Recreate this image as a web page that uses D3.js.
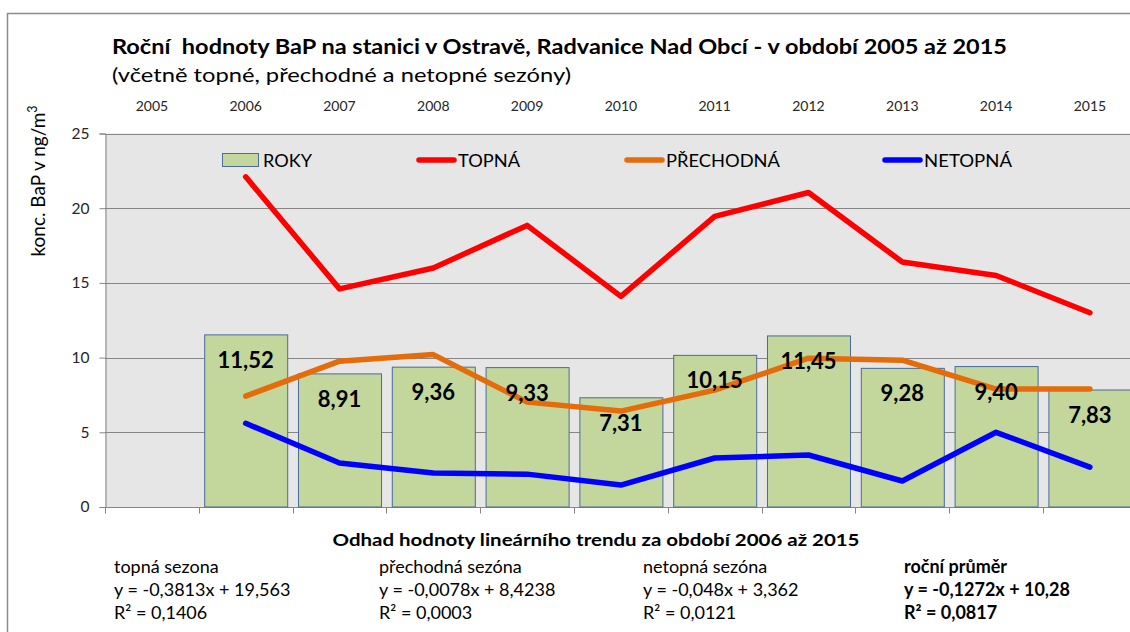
<!DOCTYPE html>
<html><head><meta charset="utf-8">
<script src="https://cdn.jsdelivr.net/npm/d3@7"></script>
<style>
html,body{margin:0;padding:0;background:#fff;}
svg{display:block;font-family:Lato, "Open Sans", sans-serif;}
</style></head>
<body>
<svg id="c" width="1130" height="632"></svg>
<script>
const years = ["2005","2006","2007","2008","2009","2010","2011","2012","2013","2014","2015"];
const roky = [null, 11.52, 8.91, 9.36, 9.33, 7.31, 10.15, 11.45, 9.28, 9.40, 7.83];
const topna = [null, 22.1, 14.6, 16.0, 18.85, 14.1, 19.45, 21.05, 16.4, 15.5, 13.0];
const prechodna = [null, 7.42, 9.76, 10.2, 7.02, 6.42, 7.82, 9.96, 9.83, 7.89, 7.89];
const netopna = [null, 5.6, 2.94, 2.27, 2.2, 1.47, 3.28, 3.48, 1.74, 5.0, 2.67];
const yTicks = [0, 5, 10, 15, 20, 25];
const legendNames = ["ROKY", "TOPNÁ", "PŘECHODNÁ", "NETOPNÁ"];
const titleText = "Roční  hodnoty BaP na stanici v Ostravě, Radvanice Nad Obcí - v období 2005 až 2015";
const subtitleText = "(včetně topné, přechodné a netopné sezóny)";
const trendTitle = "Odhad hodnoty lineárního trendu za období 2006 až 2015";
const trendNames = ["topná sezona", "přechodná sezóna", "netopná sezóna", "roční průměr"];
const trendEq = ["y = -0,3813x + 19,563", "y = -0,0078x + 8,4238", "y = -0,048x + 3,362", "y = -0,1272x + 10,28"];
const trendR2 = ["R² = 0,1406", "R² = 0,0003", "R² = 0,0121", "R² = 0,0817"];

const svg = d3.select("#c");
const fmt = v => v.toFixed(2).replace(".", ",");

// outer frame
svg.append("line").attr("x1",7).attr("x2",1130).attr("y1",13.5).attr("y2",13.5).attr("stroke","#8c8c8c").attr("stroke-width",1.5);
svg.append("line").attr("x1",7.5).attr("x2",7.5).attr("y1",13).attr("y2",632).attr("stroke","#8c8c8c").attr("stroke-width",1.5);

const pLeft = 105, pStep = 93.8, pTop = 133.5, pBottom = 507;
const x = d3.scaleBand().domain(years).range([pLeft, pLeft + pStep*years.length]).padding(0);
const y = d3.scaleLinear().domain([0,25]).range([pBottom, pTop]);
const bw = x.bandwidth()*0.885;
const cx = d => x(d) + x.bandwidth()/2;

// plot area
svg.append("rect").attr("x",pLeft).attr("y",pTop).attr("width",x.range()[1]-pLeft).attr("height",pBottom-pTop).attr("fill","#e6e6e6");

// gridlines
svg.append("g").selectAll("line").data(yTicks).join("line")
  .attr("x1",pLeft).attr("x2",x.range()[1]).attr("y1",d=>Math.round(y(d))+0.5).attr("y2",d=>Math.round(y(d))+0.5)
  .attr("stroke","#868686").attr("stroke-width",1);

// y axis
const ya = svg.append("g").attr("transform",`translate(${pLeft+0.5},0)`)
  .call(d3.axisLeft(y).tickValues(yTicks).tickSize(6).tickPadding(10).tickFormat(d=>d));
ya.select(".domain").attr("stroke","#868686");
ya.selectAll(".tick line").attr("stroke","#868686");
ya.selectAll(".tick text").attr("font-size",15.5).attr("fill","#262626").attr("font-family","Lato");

// x axis (ticks between categories)
const xa = svg.append("g").attr("transform",`translate(0,${Math.round(pBottom)+0.5})`);
xa.append("line").attr("x1",pLeft).attr("x2",x.range()[1]).attr("stroke","#868686");
xa.selectAll("line.t").data(years.concat(["end"])).join("line").attr("class","t")
  .attr("x1",(d,i)=>Math.round(pLeft + x.step()*i)+0.5).attr("x2",(d,i)=>Math.round(pLeft + x.step()*i)+0.5)
  .attr("y1",0).attr("y2",6).attr("stroke","#868686");

// top year labels
svg.append("g").selectAll("text").data(years).join("text")
  .attr("x",d=>cx(d)).attr("y",111).attr("text-anchor","middle")
  .attr("font-size",14).attr("fill","#262626").text(d=>d);

// bars
const barData = years.map((d,i)=>({year:d, v:roky[i]})).filter(d=>d.v!=null);
svg.append("g").selectAll("rect").data(barData).join("rect")
  .attr("x",d=>cx(d.year)-bw/2+0.5).attr("y",d=>y(d.v)).attr("width",bw).attr("height",d=>pBottom-y(d.v))
  .attr("fill","#c3d69b").attr("stroke","#4a6b9c").attr("stroke-width",1);

// lines
const line = d3.line().defined(d=>d.v!=null).x(d=>cx(d.year)).y(d=>y(d.v));
const series = [
  {name:"TOPNÁ", vals:topna, color:"#ff0000"},
  {name:"PŘECHODNÁ", vals:prechodna, color:"#e46c0a"},
  {name:"NETOPNÁ", vals:netopna, color:"#0000ff"}
];
series.forEach(s=>{
  svg.append("path").datum(years.map((d,i)=>({year:d, v:s.vals[i]})))
    .attr("d",line).attr("fill","none").attr("stroke",s.color).attr("stroke-width",5.5)
    .attr("stroke-linejoin","round").attr("stroke-linecap","round");
});

// bar labels
svg.append("g").selectAll("text").data(barData).join("text")
  .attr("x",d=>cx(d.year)).attr("y",d=>y(d.v)+33).attr("text-anchor","middle")
  .attr("font-size",22).attr("font-weight","bold").attr("fill","#000").text(d=>fmt(d.v));

// legend
const legX = [222, 417, 625, 883];
const legW = [49, 62, 114, 88];
const legColors = [null, "#ff0000", "#e46c0a", "#0000ff"];
const lg = svg.append("g");
legendNames.forEach((n,i)=>{
  if(i===0){
    lg.append("rect").attr("x",legX[i]+0.5).attr("y",153.5).attr("width",36).attr("height",13).attr("fill","#c3d69b").attr("stroke","#4a6b9c");
  } else {
    lg.append("line").attr("x1",legX[i]+2).attr("x2",legX[i]+37).attr("y1",160).attr("y2",160)
      .attr("stroke",legColors[i]).attr("stroke-width",5.5).attr("stroke-linecap","round");
  }
  lg.append("text").attr("x",legX[i]+41).attr("y",166.5).attr("font-size",17.5).attr("fill","#000")
    .attr("textLength",legW[i]).attr("lengthAdjust","spacingAndGlyphs").text(n);
});

// y axis title
svg.append("text").attr("transform","translate(45,181) rotate(-90)").attr("text-anchor","middle")
  .attr("font-size",19).attr("fill","#000")
  .html('konc. BaP v ng/m<tspan dy="-8" font-size="12.5">3</tspan>');

// titles
svg.append("text").attr("x",112).attr("y",54).attr("font-size",20).attr("font-weight","bold").attr("fill","#000")
  .style("white-space","pre")
  .attr("textLength",895).attr("lengthAdjust","spacingAndGlyphs").text(titleText);
svg.append("text").attr("x",112).attr("y",82).attr("font-size",18.5).attr("fill","#000")
  .attr("textLength",459).attr("lengthAdjust","spacingAndGlyphs").text(subtitleText);

// trend block
svg.append("text").attr("x",596).attr("y",546).attr("text-anchor","middle").attr("font-size",17.5).attr("font-weight","bold")
  .attr("textLength",527).attr("lengthAdjust","spacingAndGlyphs").text(trendTitle);
const colX = [114, 379, 643, 904];
trendNames.forEach((n,i)=>{
  const g = svg.append("g").attr("font-size",18).attr("fill","#000").attr("font-weight", i===3 ? "bold" : "normal");
  g.append("text").attr("x",colX[i]).attr("y",573).text(n);
  g.append("text").attr("x",colX[i]).attr("y",596).text(trendEq[i]);
  g.append("text").attr("x",colX[i]).attr("y",619).text(trendR2[i]);
});
</script>
</body></html>
